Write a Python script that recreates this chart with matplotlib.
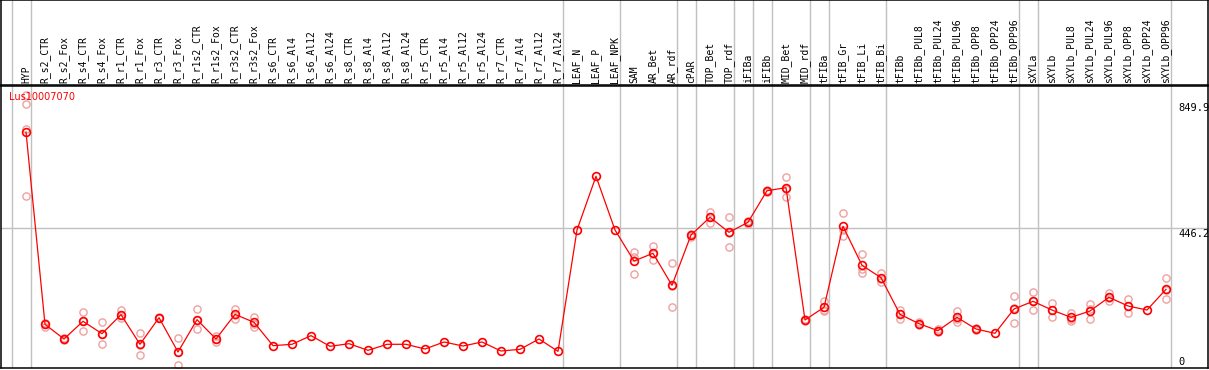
import matplotlib
matplotlib.use("Agg")
import matplotlib.pyplot as plt

labels = ["HYP", "R_s2_CTR", "R_s2_Fox", "R_s4_CTR", "R_s4_Fox", "R_r1_CTR", "R_r1_Fox",
          "R_r3_CTR", "R_r3_Fox", "R_r1s2_CTR", "R_r1s2_Fox", "R_r3s2_CTR", "R_r3s2_Fox",
          "R_s6_CTR", "R_s6_Al4", "R_s6_Al12", "R_s6_Al24", "R_s8_CTR", "R_s8_Al4",
          "R_s8_Al12", "R_s8_Al24", "R_r5_CTR", "R_r5_Al4", "R_r5_Al12", "R_r5_Al24",
          "R_r7_CTR", "R_r7_Al4", "R_r7_Al12", "R_r7_Al24", "LEAF_N", "LEAF_P", "LEAF_NPK",
          "SAM", "AR_Bet", "AR_rdf", "cPAR", "TOP_Bet", "TOP_rdf", "iFIBa", "iFIBb",
          "MID_Bet", "MID_rdf", "tFIBa", "tFIB_Gr", "tFIB_Li", "tFIB_Bi", "tFIBb",
          "tFIBb_PUL8", "tFIBb_PUL24", "tFIBb_PUL96", "tFIBb_OPP8", "tFIBb_OPP24",
          "tFIBb_OPP96", "sXYLa", "sXYLb", "sXYLb_PUL8", "sXYLb_PUL24", "sXYLb_PUL96",
          "sXYLb_OPP8", "sXYLb_OPP24", "sXYLb_OPP96"]

means = [754.7, 137.0, 89.9, 146.7, 107.0, 168.1, 72.9, 158.4, 48.2, 152.0, 89.9, 169.1, 143.5,
         68.5, 72.9, 100.7, 66.4, 74.9, 53.5, 72.9, 72.9, 57.8, 80.3, 67.4, 80.3,
         51.4, 56.7, 89.9, 50.3, 439.9, 612.4, 440.0,
         340.4, 365.1, 262.3, 423.9, 480.7, 432.5, 464.6, 566.2, 575.8, 150.9,
         191.7, 451.8, 326.6, 286.8, 169.1, 139.1, 116.6, 159.5, 122.0, 108.1,
         186.3, 210.9, 183.0, 159.5, 179.8, 223.8, 195.9, 183.0, 249.5]

replicates = [
    [873, 843, 763, 549], [141, 137, 130], [92, 89, 88], [176.6, 148, 115.6],
    [143.5, 105, 72.9], [182, 166, 156], [110, 71, 37.5], [161, 157, 157],
    [92, 47, 5.3], [185, 150, 121], [99.5, 89, 81.3], [185, 168, 154], [161.6, 139, 129.5],
    [], [], [], [], [], [], [], [], [], [], [], [], [], [], [], [],
    [], [], [],
    [368.3, 354, 298.7], [388.6, 364, 342.6], [334, 261, 191.7], [428, 424, 419],
    [497.8, 482, 462.4], [481.7, 431, 384.4], [470, 465, 459], [570, 566, 562],
    [609.2, 573, 545], [153, 151, 149], [212, 180, 183], [493.6, 441, 420.7],
    [362.9, 315, 301.9], [302.8, 284, 273.9], [183, 171, 153], [143, 139, 135],
    [122, 117, 111], [179.8, 155, 143.5], [125, 122, 119], [],
    [228, 191, 140.2], [239.8, 211, 182], [204.4, 183, 161.6], [174.5, 155, 148.8],
    [201.2, 185, 153.1], [237.6, 222, 212], [217.4, 196, 174.5], [],
    [284.8, 246, 217.4],
]

group_ends = [-1, 0, 28, 31, 34, 35, 37, 38, 39, 41, 42, 45, 52, 53, 60]
y_ticks = [849.9, 446.2, 0]
gene = "Lus10007070"

W, H = 1209, 370
fig = plt.figure(figsize=(W / 100, H / 100), dpi=100)
gray = "#c0c0c0"
mono = "DejaVu Sans Mono"

x0px, step = 26, 19
xl = ((1 - x0px) / step, (1208 - x0px) / step)
ppu = 0.3114
yl = ((367 - 368) / ppu, (367 - 86) / ppu)

ax = fig.add_axes([1 / W, (H - 368) / H, 1207 / W, (368 - 86) / H])
hx = fig.add_axes([1 / W, (H - 85) / H, 1207 / W, 85 / H])

for a in (ax, hx):
    a.set_xlim(*xl)
    a.set_xticks([])
    a.set_yticks([])
    for s in a.spines.values():
        s.set_color("black")
        s.set_linewidth(1.1)
    for g in group_ends:
        a.axvline(g + 4.5 / step, color=gray, lw=1.0, zorder=0)

ax.set_ylim(*yl)
hx.set_ylim(0, 1)
ax.axhline(446.2, color=gray, lw=1.0, zorder=0)

xs = list(range(len(labels)))
for i, reps in enumerate(replicates):
    if reps:
        ax.plot([i] * len(reps), reps, linestyle="none", marker="o", ms=5.2,
                mfc="none", mec="#f0a0a0", mew=1.0, zorder=2)
ax.plot(xs, means, color="red", lw=0.9, zorder=3)
ax.plot(xs, means, linestyle="none", marker="o", ms=5.6, mfc="none",
        mec="red", mew=1.2, zorder=4)

for i, lab in enumerate(labels):
    hx.text(i, 2 / 85, lab, rotation=90, ha="center", va="bottom",
            fontsize=7, family=mono, color="black")

tx = (1178 - x0px) / step
for v in y_ticks:
    if v == 0:
        ax.text(tx, v + 1, "0", ha="left", va="bottom", fontsize=7.5, family=mono)
    else:
        ax.text(tx, v - 3, f"{v}", ha="left", va="top", fontsize=7.5, family=mono)

ax.text((9 - x0px) / step, (367 - 96.5) / ppu, gene, ha="left", va="center",
        fontsize=7, color="red", zorder=5)

fig.savefig("out.png", dpi=100)
